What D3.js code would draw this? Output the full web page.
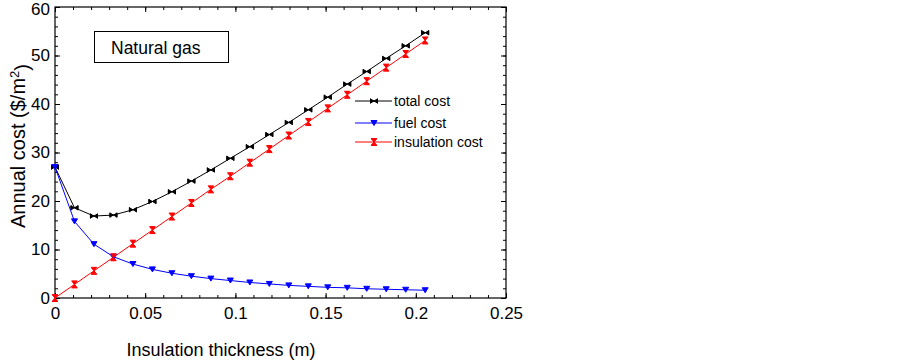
<!DOCTYPE html>
<html>
<head>
<meta charset="utf-8">
<script src="https://cdn.jsdelivr.net/npm/d3@7"></script>
<style>
  body { margin: 0; background: #fff; }
  text { font-family: Arial, "Liberation Sans", sans-serif; fill: #000; }
</style>
</head>
<body>
<script>
// insulation thickness (m)
const thickness = [0, 0.0108, 0.0216, 0.0324, 0.0432, 0.054, 0.0648, 0.0756, 0.0864, 0.0972,
                   0.108, 0.1188, 0.1296, 0.1404, 0.1512, 0.162, 0.1728, 0.1836, 0.1944, 0.2052];
const totalCost = [27.0, 18.6, 16.9, 17.1, 18.2, 19.9, 21.9, 24.1, 26.4, 28.8,
                   31.2, 33.7, 36.2, 38.8, 41.4, 44.1, 46.7, 49.4, 52.0, 54.7];
const fuelCost = [27.0, 15.8, 11.1, 8.5, 7.0, 5.9, 5.1, 4.5, 4.0, 3.6,
                  3.2, 2.9, 2.6, 2.4, 2.2, 2.1, 1.9, 1.8, 1.7, 1.6];
const insulationCost = [0, 2.8, 5.6, 8.4, 11.2, 14.0, 16.8, 19.6, 22.4, 25.1,
                        27.9, 30.7, 33.5, 36.3, 39.1, 41.9, 44.7, 47.5, 50.3, 53.1];
const xTicks = [0, 0.05, 0.1, 0.15, 0.2, 0.25];
const xTickLabels = ["0", "0.05", "0.1", "0.15", "0.2", "0.25"];
const yTicks = [0, 10, 20, 30, 40, 50, 60];

const series = [
  {name: "total cost", values: totalCost, color: "#000000", marker: "bowtieH"},
  {name: "fuel cost", values: fuelCost, color: "#0000ff", marker: "triDown"},
  {name: "insulation cost", values: insulationCost, color: "#ff0000", marker: "hourglass"}
];

const W = 903, H = 361;
const margin = {top: 7, right: 397, bottom: 63, left: 55},
      width = W - margin.left - margin.right,
      height = H - margin.top - margin.bottom;

const svg = d3.select("body").append("svg")
    .attr("width", W)
    .attr("height", H);

const g = svg.append("g")
    .attr("transform", "translate(" + margin.left + "," + margin.top + ")");

const x = d3.scaleLinear().domain([0, 0.25]).range([0, width]);
const y = d3.scaleLinear().domain([0, 60]).range([height, 0]);

const xMinor = d3.range(0, 0.2501, 0.01).map(v => +v.toFixed(2));
const yMinor = d3.range(0, 60.1, 2);

function ticks(axisGen, scale, vals, size, labels) {
  return axisGen(scale).tickValues(vals).tickSize(-size).tickPadding(8)
      .tickFormat(labels ? (d, i) => labels[i] : "");
}

function drawAxis(axis, transform, showLabels) {
  const a = g.append("g").attr("transform", transform).call(axis);
  a.select(".domain").remove();
  a.selectAll("line").attr("stroke", "#000").attr("stroke-width", 1);
  a.selectAll("text").style("font-size", "17px")
      .style("font-family", "Arial, 'Liberation Sans', sans-serif")
      .attr("fill", "#000");
  if (!showLabels) a.selectAll("text").remove();
  return a;
}

// bottom
drawAxis(ticks(d3.axisBottom, x, xMinor, 3), "translate(0," + height + ")", false);
const xa = drawAxis(ticks(d3.axisBottom, x, xTicks, 5, xTickLabels), "translate(0," + height + ")", true);
xa.selectAll("text").attr("y", 9);
// top
drawAxis(ticks(d3.axisTop, x, xMinor, 3), "translate(0,0)", false);
drawAxis(ticks(d3.axisTop, x, xTicks, 5), "translate(0,0)", false);
// left
drawAxis(ticks(d3.axisLeft, y, yMinor, 3), "translate(0,0)", false);
const ya = drawAxis(ticks(d3.axisLeft, y, yTicks, 5, yTicks.map(String)), "translate(0,0)", true);
ya.selectAll("text").attr("x", -5);
ya.selectAll(".tick").filter(d => d === 60).select("text").attr("dy", "0.38em").attr("y", 1);
// right
drawAxis(ticks(d3.axisRight, y, yMinor, 3), "translate(" + width + ",0)", false);
drawAxis(ticks(d3.axisRight, y, yTicks, 5), "translate(" + width + ",0)", false);

// frame
g.append("rect")
    .attr("width", width)
    .attr("height", height)
    .attr("fill", "none")
    .attr("stroke", "#000")
    .attr("stroke-width", 1.2);

// marker shapes
function markerPath(type) {
  if (type === "bowtieH") return "M-3.5,-2.5L-3.5,2.5M3.5,-2.5L3.5,2.5M-3.5,-2L0,0L-3.5,2ZM3.5,-2L0,0L3.5,2Z";
  if (type === "triDown") return "M-3,-2.5L3,-2.5L0,2.5Z";
  return "M-3,-3.5L3,-3.5M-3,3.5L3,3.5M-2.5,-3L0,0L2.5,-3ZM-2.5,3L0,0L2.5,3Z";
}

const line = d3.line()
    .x((d, i) => x(thickness[i]))
    .y(d => y(d));

series.forEach(s => {
  g.append("path")
      .datum(s.values)
      .attr("fill", "none")
      .attr("stroke", s.color)
      .attr("stroke-width", 1)
      .attr("d", line);

  g.selectAll(null)
      .data(s.values)
    .enter().append("path")
      .attr("transform", (d, i) => "translate(" + x(thickness[i]) + "," + y(d) + ")")
      .attr("d", markerPath(s.marker))
      .attr("fill", s.color)
      .attr("stroke", s.color)
      .attr("stroke-width", 1);
});

// legend
const legend = svg.append("g").attr("transform", "translate(355,101)");
series.forEach((s, i) => {
  const row = legend.append("g").attr("transform", "translate(0," + [0, 22, 41][i] + ")");
  row.append("line")
      .attr("x1", 0).attr("x2", 37)
      .attr("stroke", s.color).attr("stroke-width", 1);
  row.append("path")
      .attr("transform", "translate(19,0)")
      .attr("d", markerPath(s.marker))
      .attr("fill", s.color)
      .attr("stroke", s.color)
      .attr("stroke-width", 1);
  row.append("text")
      .attr("x", 39)
      .attr("dy", "0.35em")
      .style("font-size", "14px")
      .text(s.name);
});

// annotation box
svg.append("rect")
    .attr("x", 94.5).attr("y", 31.5)
    .attr("width", 134).attr("height", 31)
    .attr("fill", "#fff")
    .attr("stroke", "#000")
    .attr("stroke-width", 1);
svg.append("text")
    .attr("x", 111).attr("y", 54)
    .style("font-size", "17.5px")
    .text("Natural gas");

// axis titles
svg.append("text")
    .attr("x", 221).attr("y", 356)
    .attr("text-anchor", "middle")
    .style("font-size", "18px")
    .text("Insulation thickness (m)");

const yTitle = svg.append("text")
    .attr("transform", "translate(25,146) rotate(-90)")
    .attr("text-anchor", "middle")
    .style("font-size", "20px");
yTitle.append("tspan").text("Annual cost ($/m");
yTitle.append("tspan").attr("dy", "-0.5em").style("font-size", "13px").text("2");
yTitle.append("tspan").attr("dy", "0.5em").text(")");
</script>
</body>
</html>
